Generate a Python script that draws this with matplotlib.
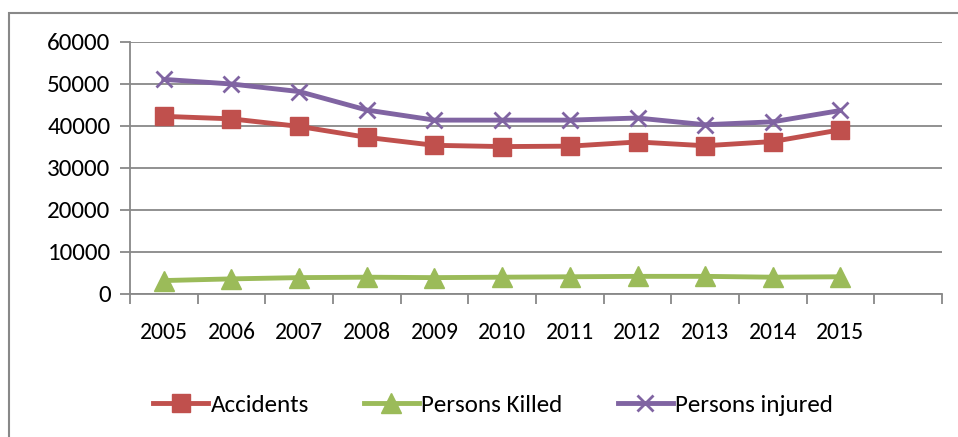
import numpy as np
import matplotlib.pyplot as plt
from matplotlib.patches import Rectangle

# Daten
years = ['2005', '2006', '2007', '2008', '2009', '2010', '2011', '2012', '2013', '2014', '2015']
accidents = [42300, 41700, 39900, 37300, 35400, 35100, 35200, 36200, 35300, 36300, 39100]
killed = [3200, 3600, 3900, 4000, 3900, 4000, 4100, 4200, 4200, 4000, 4100]
injured = [51100, 50000, 48200, 43800, 41400, 41400, 41400, 41900, 40300, 41000, 43700]
yticks = [0, 10000, 20000, 30000, 40000, 50000, 60000]

plt.rcParams.update({
    'font.family': ['Carlito', 'Liberation Sans', 'DejaVu Sans'],
})

fig = plt.figure(figsize=(9.58, 4.37), dpi=100)
ax = fig.add_axes([130 / 958, 1 - 294 / 437, 812 / 958, 252 / 437])

# Rahmen um das ganze Diagramm
fig.patches.append(Rectangle((9 / 958, -0.1), 1.1, 1 - 13 / 437 + 0.1, transform=fig.transFigure,
                             fill=False, edgecolor='#888888', linewidth=1.5))

x = np.arange(len(years))
ax.plot(x, accidents, color='#C0504D', linewidth=3.5, marker='s', markersize=13, label='Accidents')
ax.plot(x, killed, color='#9BBB59', linewidth=3.5, marker='^', markersize=14, label='Persons Killed')
ax.plot(x, injured, color='#8064A2', linewidth=3.5, marker='x', markersize=12, markeredgewidth=2,
        label='Persons injured')

ax.set_xlim(-0.5, 11.5)
ax.set_ylim(0, 60000)
ax.set_yticks(yticks)
ax.set_yticklabels([str(v) for v in yticks], fontsize=18)
ax.grid(axis='y', color='#888888', linewidth=1.3)
ax.set_axisbelow(True)

# Kategorie-Grenzen als Ticks, Beschriftung mittig
ax.set_xticks(np.arange(-0.5, 12, 1))
ax.set_xticklabels([])
ax.set_xticks(x, minor=True)
ax.set_xticklabels(years, minor=True, fontsize=17)
ax.tick_params(axis='x', which='minor', length=0, pad=20)
ax.tick_params(axis='x', which='major', length=7, color='#888888', width=1.3)
ax.tick_params(axis='y', length=7, color='#888888', width=1.3, pad=7)

for s in ['top', 'right']:
    ax.spines[s].set_visible(False)
ax.spines['left'].set_color('#888888')
ax.spines['bottom'].set_color('#888888')
ax.spines['left'].set_linewidth(1.3)
ax.spines['bottom'].set_linewidth(1.3)

fig.legend(loc='center', bbox_to_anchor=(493 / 958, 1 - 405 / 437), ncol=3, frameon=False,
           fontsize=18, handlelength=2.2, columnspacing=2.2,
           handletextpad=0.1, markerscale=1)

fig.savefig('out.png', dpi=100)
